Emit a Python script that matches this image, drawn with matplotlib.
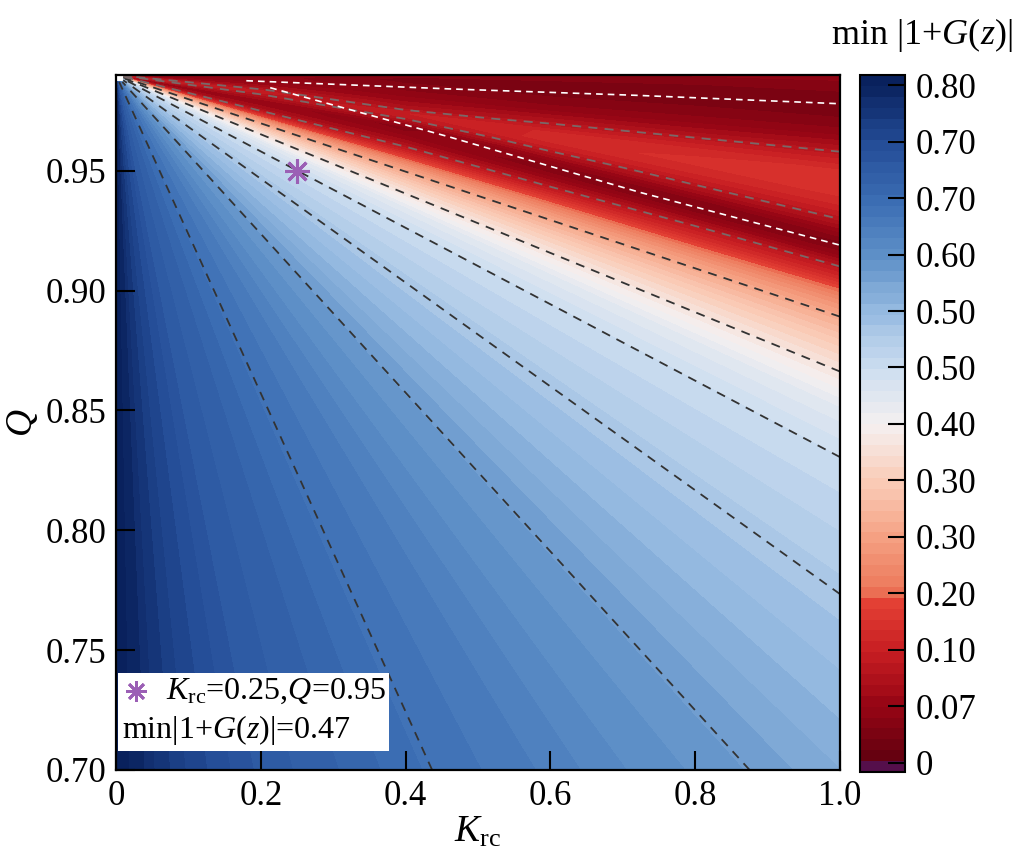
import numpy as np
import matplotlib
matplotlib.use('Agg')
import matplotlib.pyplot as plt
from matplotlib.colors import LinearSegmentedColormap
from matplotlib.lines import Line2D
from matplotlib.offsetbox import TextArea, DrawingArea, HPacker, VPacker, AnchoredOffsetbox

plt.rcParams['font.family'] = 'Liberation Serif'
plt.rcParams['mathtext.fontset'] = 'custom'
plt.rcParams['mathtext.rm'] = 'Liberation Serif'
plt.rcParams['mathtext.it'] = 'Liberation Serif:italic'

# ---------------- data ----------------
# the field fans out of the top-left corner (K=0, Q=0.99)
corner_K, corner_Q = 0.0, 0.99

# rays ending on the bottom edge (Q=0.70): end K and value along the ray
bottom_K = [0.0, 0.03, 0.05, 0.10, 0.20, 0.30, 0.43, 0.55, 0.70, 0.87, 1.00]
bottom_val = [0.805, 0.795, 0.775, 0.745, 0.705, 0.685, 0.656, 0.638, 0.607, 0.580, 0.555]

# rays ending on the right edge (K=1.0), blue / white part
right_Q = [0.74, 0.772, 0.80, 0.83, 0.85, 0.866, 0.878]
right_val = [0.530, 0.510, 0.490, 0.466, 0.430, 0.376, 0.330]

# red part: value along each ray at several fractions of its length
ray_frac = [0.01, 0.2, 0.4, 0.6, 0.8, 1.0]
red_Q = [0.889, 0.895, 0.90, 0.905, 0.91, 0.915, 0.92, 0.925, 0.93, 0.935, 0.94,
         0.945, 0.95, 0.955, 0.96, 0.965, 0.97, 0.975, 0.98, 0.985, 0.99]
red_val = [
    [0.277, 0.277, 0.277, 0.277, 0.277, 0.277],
    [0.245, 0.245, 0.245, 0.240, 0.240, 0.240],
    [0.210, 0.210, 0.210, 0.205, 0.200, 0.200],
    [0.175, 0.175, 0.175, 0.165, 0.155, 0.150],
    [0.140, 0.140, 0.140, 0.125, 0.120, 0.110],
    [0.110, 0.110, 0.110, 0.090, 0.075, 0.060],
    [0.090, 0.090, 0.085, 0.060, 0.040, 0.035],
    [0.080, 0.080, 0.070, 0.040, 0.050, 0.070],
    [0.075, 0.075, 0.055, 0.060, 0.090, 0.110],
    [0.075, 0.075, 0.045, 0.095, 0.125, 0.140],
    [0.080, 0.080, 0.080, 0.130, 0.150, 0.158],
    [0.095, 0.095, 0.115, 0.150, 0.160, 0.165],
    [0.110, 0.110, 0.130, 0.145, 0.152, 0.158],
    [0.125, 0.125, 0.100, 0.115, 0.125, 0.130],
    [0.110, 0.110, 0.085, 0.090, 0.090, 0.095],
    [0.090, 0.090, 0.070, 0.065, 0.065, 0.065],
    [0.075, 0.075, 0.060, 0.050, 0.048, 0.045],
    [0.065, 0.065, 0.050, 0.040, 0.038, 0.035],
    [0.060, 0.060, 0.042, 0.034, 0.032, 0.032],
    [0.060, 0.060, 0.035, 0.038, 0.040, 0.045],
    [0.065, 0.065, 0.045, 0.050, 0.055, 0.060],
]

# contour levels drawn as dashed lines
black_levels = [0.276, 0.375, 0.465, 0.509, 0.579, 0.655]
gray_levels = [0.109]

# white dashed lines in the dark red area
white1_K = [0.18, 0.46, 0.72, 1.0]
white1_Q = [0.9876, 0.9842, 0.9815, 0.978]
white2_K = [0.213, 0.461, 0.724, 1.0]
white2_Q = [0.9847, 0.9641, 0.941, 0.919]

# marked point
star_K, star_Q, star_val = 0.25, 0.95, 0.47

cbar_ticks = [0.0, 0.0667, 0.1333, 0.2, 0.2667, 0.3333, 0.4, 0.4667, 0.5333, 0.6, 0.6667, 0.7333, 0.8]
cbar_labels = ['0', '0.07', '0.10', '0.20', '0.30', '0.30', '0.40', '0.50', '0.50', '0.60', '0.70', '0.70', '0.80']
vmin, vmax = -0.011, 0.812

# ---------------- build the fan grid ----------------
end_K = np.array(bottom_K + [1.0] * (len(right_Q) + len(red_Q)))
end_Q = np.array([0.70] * len(bottom_K) + right_Q + red_Q)
frac = np.array(ray_frac)
X = corner_K + np.outer(end_K - corner_K, frac)
Y = corner_Q + np.outer(end_Q - corner_Q, frac)
nf = len(frac)
Z = np.vstack([np.repeat(np.array(bottom_val)[:, None], nf, axis=1),
               np.repeat(np.array(right_val)[:, None], nf, axis=1),
               np.array(red_val)])

# colour map
stops = [
    (0.000, (85, 15, 75)), (0.012, (85, 15, 75)), (0.014, (95, 0, 15)),
    (0.094, (150, 5, 20)), (0.175, (200, 30, 35)), (0.245, (228, 65, 52)),
    (0.262, (236, 120, 90)), (0.337, (245, 160, 130)), (0.418, (250, 205, 185)),
    (0.500, (245, 240, 240)), (0.580, (205, 222, 240)), (0.660, (150, 186, 225)),
    (0.740, (95, 145, 200)), (0.820, (60, 110, 180)), (0.905, (35, 75, 150)),
    (0.986, (10, 35, 95)), (1.000, (8, 30, 90)),
]
cmap = LinearSegmentedColormap.from_list(
    'rb', [(p, tuple(c / 255 for c in col)) for p, col in stops])

fig = plt.figure(figsize=(10.22, 8.58), dpi=100)
ax = fig.add_axes([0.1135, 0.1026, 0.7084, 0.8100])
cax = fig.add_axes([0.8415, 0.1002, 0.044, 0.8124])

levels = np.linspace(vmin, vmax, 65)
cf = ax.contourf(X, Y, Z, levels=levels, cmap=cmap, vmin=vmin, vmax=vmax)
ax.contour(X, Y, Z, levels=black_levels, colors='#333333', linewidths=1.3,
           linestyles=[(0, (5, 4))])
ax.contour(X, Y, Z, levels=gray_levels, colors='#7a6868', linewidths=1.3,
           linestyles=[(0, (5, 4))])
ax.plot(white1_K, white1_Q, color='white', lw=1.2, ls=(0, (4, 3)))
ax.plot(white2_K, white2_Q, color='white', lw=1.2, ls=(0, (4, 3)))

star_color = '#9b5fb5'
ax.plot([star_K], [star_Q], marker=(8, 2, 0), ms=18, mew=2.2, color=star_color, ls='none')

ax.set_xlim(0, 1.0)
ax.set_ylim(0.70, 0.99)
ax.set_xticks([0, 0.2, 0.4, 0.6, 0.8, 1.0])
ax.set_xticklabels(['0', '0.2', '0.4', '0.6', '0.8', '1.0'])
ax.set_yticks([0.70, 0.75, 0.80, 0.85, 0.90, 0.95])
ax.set_yticklabels(['0.70', '0.75', '0.80', '0.85', '0.90', '0.95'])
ax.tick_params(direction='in', length=14, width=1.5, labelsize=25, pad=7)
for sp in ax.spines.values():
    sp.set_linewidth(1.6)
ax.set_xlabel(r'$K_{\mathrm{rc}}$', fontsize=27, labelpad=2)
ax.set_ylabel(r'$Q$', fontsize=27, labelpad=4)

# legend-like box
da = DrawingArea(20, 20, 0, 0)
da.add_artist(Line2D([10], [10], marker=(8, 2, 0), ms=15, mew=2, color=star_color))
t1 = TextArea(r'$K_{\mathrm{rc}}$=0.25,$Q$=0.95', textprops=dict(size=23))
t2 = TextArea('min|1+$G$($z$)|=%.2f' % star_val, textprops=dict(size=23))
row1 = HPacker(children=[da, t1], pad=0, sep=12, align='center')
box = VPacker(children=[row1, t2], pad=0, sep=5, align='left')
anch = AnchoredOffsetbox(loc='lower left', child=box, pad=0.25, frameon=True,
                         bbox_to_anchor=(0.003, 0.028), bbox_transform=ax.transAxes,
                         borderpad=0)
anch.patch.set_edgecolor('none')
anch.patch.set_facecolor('white')
ax.add_artist(anch)

cb = fig.colorbar(cf, cax=cax, ticks=cbar_ticks)
cb.ax.set_yticklabels(cbar_labels)
cb.ax.tick_params(direction='in', length=12, width=1.5, labelsize=25, pad=8)
cb.ax.minorticks_off()
cb.outline.set_linewidth(1.5)
fig.text(0.902, 0.959, 'min |1+$G$($z$)|', ha='center', va='center', fontsize=26)

fig.savefig('out.png', dpi=100)
